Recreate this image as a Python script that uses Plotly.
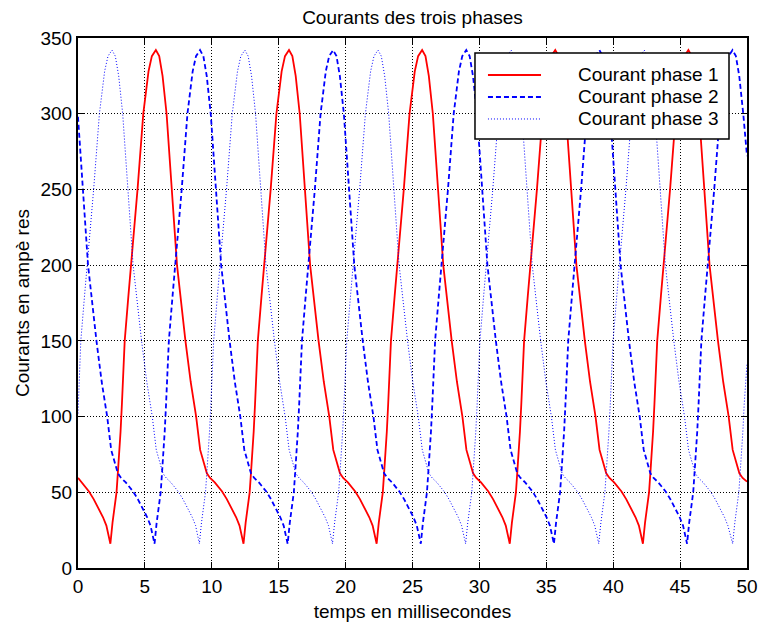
import plotly.graph_objects as go

# ---------------- data ----------------
t_phase1 = [0, 0.27, 0.82, 1.17, 1.55, 1.87, 2.12, 2.30,
    2.42, 2.58, 2.76, 2.88, 2.98, 3.08, 3.18, 3.28, 3.49, 3.77, 4.01, 4.45, 4.88, 5.27, 5.52, 5.82, 6.07, 6.32,
    6.62, 7.03, 7.40, 8.03, 8.42, 8.83, 9.13, 9.63, 9.87, 10.22, 10.77, 11.12, 11.50, 11.82, 12.07, 12.25,
    12.37, 12.53, 12.71, 12.83, 12.93, 13.03, 13.13, 13.23, 13.44, 13.72, 13.96, 14.40, 14.83, 15.22, 15.47, 15.77, 16.02, 16.27,
    16.57, 16.98, 17.35, 17.98, 18.37, 18.78, 19.08, 19.58, 19.82, 20.17, 20.72, 21.07, 21.45, 21.77, 22.02, 22.20,
    22.32, 22.48, 22.66, 22.78, 22.88, 22.98, 23.08, 23.18, 23.39, 23.67, 23.91, 24.35, 24.78, 25.17, 25.42, 25.72, 25.97, 26.22,
    26.52, 26.93, 27.30, 27.93, 28.32, 28.73, 29.03, 29.53, 29.77, 30.12, 30.67, 31.02, 31.40, 31.72, 31.97, 32.15,
    32.27, 32.43, 32.61, 32.73, 32.83, 32.93, 33.03, 33.13, 33.34, 33.62, 33.86, 34.30, 34.73, 35.12, 35.37, 35.67, 35.92, 36.17,
    36.47, 36.88, 37.25, 37.88, 38.27, 38.68, 38.98, 39.48, 39.72, 40.07, 40.62, 40.97, 41.35, 41.67, 41.92, 42.10,
    42.22, 42.38, 42.56, 42.68, 42.78, 42.88, 42.98, 43.08, 43.29, 43.57, 43.81, 44.25, 44.68, 45.07, 45.32, 45.62, 45.87, 46.12,
    46.42, 46.83, 47.20, 47.83, 48.22, 48.63, 48.93, 49.43, 49.67, 50]
i_phase1 = [59.5, 56.5, 50.5, 45.5, 39, 33.5, 28, 21,
    16, 30, 41, 50, 63, 75, 90, 108, 150, 180, 203, 250, 300, 328, 338, 342, 338, 325,
    300, 250, 200, 150, 123, 100, 78, 62.5, 59.5, 56.5, 50.5, 45.5, 39, 33.5, 28, 21,
    16, 30, 41, 50, 63, 75, 90, 108, 150, 180, 203, 250, 300, 328, 338, 342, 338, 325,
    300, 250, 200, 150, 123, 100, 78, 62.5, 59.5, 56.5, 50.5, 45.5, 39, 33.5, 28, 21,
    16, 30, 41, 50, 63, 75, 90, 108, 150, 180, 203, 250, 300, 328, 338, 342, 338, 325,
    300, 250, 200, 150, 123, 100, 78, 62.5, 59.5, 56.5, 50.5, 45.5, 39, 33.5, 28, 21,
    16, 30, 41, 50, 63, 75, 90, 108, 150, 180, 203, 250, 300, 328, 338, 342, 338, 325,
    300, 250, 200, 150, 123, 100, 78, 62.5, 59.5, 56.5, 50.5, 45.5, 39, 33.5, 28, 21,
    16, 30, 41, 50, 63, 75, 90, 108, 150, 180, 203, 250, 300, 328, 338, 342, 338, 325,
    300, 250, 200, 150, 123, 100, 78, 62.5, 59.5, 57]

t_phase2 = [0, 0.38, 0.75, 1.38, 1.77, 2.18, 2.48, 2.98, 3.22, 3.57, 4.12, 4.47, 4.85, 5.17, 5.42, 5.60,
    5.72, 5.88, 6.06, 6.18, 6.28, 6.38, 6.48, 6.58, 6.79, 7.07, 7.31, 7.75, 8.18, 8.57, 8.82, 9.12, 9.37, 9.62,
    9.92, 10.33, 10.70, 11.33, 11.72, 12.13, 12.43, 12.93, 13.17, 13.52, 14.07, 14.42, 14.80, 15.12, 15.37, 15.55,
    15.67, 15.83, 16.01, 16.13, 16.23, 16.33, 16.43, 16.53, 16.74, 17.02, 17.26, 17.70, 18.13, 18.52, 18.77, 19.07, 19.32, 19.57,
    19.87, 20.28, 20.65, 21.28, 21.67, 22.08, 22.38, 22.88, 23.12, 23.47, 24.02, 24.37, 24.75, 25.07, 25.32, 25.50,
    25.62, 25.78, 25.96, 26.08, 26.18, 26.28, 26.38, 26.48, 26.69, 26.97, 27.21, 27.65, 28.08, 28.47, 28.72, 29.02, 29.27, 29.52,
    29.82, 30.23, 30.60, 31.23, 31.62, 32.03, 32.33, 32.83, 33.07, 33.42, 33.97, 34.32, 34.70, 35.02, 35.27, 35.45,
    35.57, 35.73, 35.91, 36.03, 36.13, 36.23, 36.33, 36.43, 36.64, 36.92, 37.16, 37.60, 38.03, 38.42, 38.67, 38.97, 39.22, 39.47,
    39.77, 40.18, 40.55, 41.18, 41.57, 41.98, 42.28, 42.78, 43.02, 43.37, 43.92, 44.27, 44.65, 44.97, 45.22, 45.40,
    45.52, 45.68, 45.86, 45.98, 46.08, 46.18, 46.28, 46.38, 46.59, 46.87, 47.11, 47.55, 47.98, 48.37, 48.62, 48.92, 49.17, 49.42,
    49.72, 50]
i_phase2 = [298, 250, 200, 150, 123, 100, 78, 62.5, 59.5, 56.5, 50.5, 45.5, 39, 33.5, 28, 21,
    16, 30, 41, 50, 63, 75, 90, 108, 150, 180, 203, 250, 300, 328, 338, 342, 338, 325,
    300, 250, 200, 150, 123, 100, 78, 62.5, 59.5, 56.5, 50.5, 45.5, 39, 33.5, 28, 21,
    16, 30, 41, 50, 63, 75, 90, 108, 150, 180, 203, 250, 300, 328, 338, 342, 338, 325,
    300, 250, 200, 150, 123, 100, 78, 62.5, 59.5, 56.5, 50.5, 45.5, 39, 33.5, 28, 21,
    16, 30, 41, 50, 63, 75, 90, 108, 150, 180, 203, 250, 300, 328, 338, 342, 338, 325,
    300, 250, 200, 150, 123, 100, 78, 62.5, 59.5, 56.5, 50.5, 45.5, 39, 33.5, 28, 21,
    16, 30, 41, 50, 63, 75, 90, 108, 150, 180, 203, 250, 300, 328, 338, 342, 338, 325,
    300, 250, 200, 150, 123, 100, 78, 62.5, 59.5, 56.5, 50.5, 45.5, 39, 33.5, 28, 21,
    16, 30, 41, 50, 63, 75, 90, 108, 150, 180, 203, 250, 300, 328, 338, 342, 338, 325,
    300, 272]

t_phase3 = [0, 0.21, 0.49, 0.73, 1.17, 1.60, 1.99, 2.24, 2.54, 2.79, 3.04, 3.34, 3.75, 4.12, 4.75, 5.14, 5.55, 5.85,
    6.35, 6.59, 6.94, 7.49, 7.84, 8.22, 8.54, 8.79, 8.97,
    9.07, 9.23, 9.41, 9.53, 9.63, 9.73, 9.83, 9.93, 10.14, 10.42, 10.66, 11.10, 11.53, 11.92, 12.17, 12.47, 12.72, 12.97,
    13.27, 13.68, 14.05, 14.68, 15.07, 15.48, 15.78, 16.28, 16.52, 16.87, 17.42, 17.77, 18.15, 18.47, 18.72, 18.90,
    19.02, 19.18, 19.36, 19.48, 19.58, 19.68, 19.78, 19.88, 20.09, 20.37, 20.61, 21.05, 21.48, 21.87, 22.12, 22.42, 22.67, 22.92,
    23.22, 23.63, 24.00, 24.63, 25.02, 25.43, 25.73, 26.23, 26.47, 26.82, 27.37, 27.72, 28.10, 28.42, 28.67, 28.85,
    28.97, 29.13, 29.31, 29.43, 29.53, 29.63, 29.73, 29.83, 30.04, 30.32, 30.56, 31.00, 31.43, 31.82, 32.07, 32.37, 32.62, 32.87,
    33.17, 33.58, 33.95, 34.58, 34.97, 35.38, 35.68, 36.18, 36.42, 36.77, 37.32, 37.67, 38.05, 38.37, 38.62, 38.80,
    38.92, 39.08, 39.26, 39.38, 39.48, 39.58, 39.68, 39.78, 39.99, 40.27, 40.51, 40.95, 41.38, 41.77, 42.02, 42.32, 42.57, 42.82,
    43.12, 43.53, 43.90, 44.53, 44.92, 45.33, 45.63, 46.13, 46.37, 46.72, 47.27, 47.62, 48.00, 48.32, 48.57, 48.75,
    48.93, 49.09, 49.27, 49.39, 49.49, 49.59, 49.69, 49.79, 50]
i_phase3 = [102, 150, 180, 203, 250, 300, 328, 338, 342, 338, 325, 300, 250, 200, 150, 123, 100, 78,
    62.5, 59.5, 56.5, 50.5, 45.5, 39, 33.5, 28, 21,
    16, 30, 41, 50, 63, 75, 90, 108, 150, 180, 203, 250, 300, 328, 338, 342, 338, 325,
    300, 250, 200, 150, 123, 100, 78, 62.5, 59.5, 56.5, 50.5, 45.5, 39, 33.5, 28, 21,
    16, 30, 41, 50, 63, 75, 90, 108, 150, 180, 203, 250, 300, 328, 338, 342, 338, 325,
    300, 250, 200, 150, 123, 100, 78, 62.5, 59.5, 56.5, 50.5, 45.5, 39, 33.5, 28, 21,
    16, 30, 41, 50, 63, 75, 90, 108, 150, 180, 203, 250, 300, 328, 338, 342, 338, 325,
    300, 250, 200, 150, 123, 100, 78, 62.5, 59.5, 56.5, 50.5, 45.5, 39, 33.5, 28, 21,
    16, 30, 41, 50, 63, 75, 90, 108, 150, 180, 203, 250, 300, 328, 338, 342, 338, 325,
    300, 250, 200, 150, 123, 100, 78, 62.5, 59.5, 56.5, 50.5, 45.5, 39, 33.5, 28, 21,
    16, 30, 41, 50, 63, 75, 90, 108, 135]

series_names = ["Courant phase 1", "Courant phase 2", "Courant phase 3"]
x_ticks = [0, 5, 10, 15, 20, 25, 30, 35, 40, 45, 50]
y_ticks = [0, 50, 100, 150, 200, 250, 300, 350]

# ---------------- styles ----------------
FONT = "Liberation Sans, Arial, Helvetica, sans-serif"
RED = "rgb(255,0,0)"
BLUE = "rgb(0,0,255)"
line_styles = [
    dict(color=RED, width=1.8),
    dict(color=BLUE, width=1.8, dash="5px,3px"),
    dict(color=BLUE, width=1, dash="1px,2px"),
]

fig = go.Figure()
for tx, iy, name, ls in zip([t_phase1, t_phase2, t_phase3], [i_phase1, i_phase2, i_phase3],
                            series_names, line_styles):
    fig.add_trace(go.Scatter(x=tx, y=iy, mode="lines", name=name, line=ls, showlegend=False))

axis_common = dict(
    showline=True, linecolor="black", linewidth=2, mirror="ticks",
    ticks="inside", ticklen=6, tickcolor="black", tickwidth=1,
    showgrid=True, gridcolor="black", gridwidth=1, griddash="1px,2px",
    zeroline=False, tickfont=dict(family=FONT, size=19, color="black"),
)
fig.update_xaxes(range=[0, 50], tickvals=x_ticks, ticktext=[str(v) for v in x_ticks],
                 title=dict(text="temps en millisecondes", font=dict(family=FONT, size=19, color="black"),
                            standoff=9),
                 **axis_common)
fig.update_yaxes(range=[0, 350], tickvals=y_ticks, ticktext=[str(v) for v in y_ticks],
                 title=dict(text="Courants en ampè res", font=dict(family=FONT, size=19, color="black"),
                            standoff=6),
                 **axis_common)

# ---------------- legend box (MATLAB style), in paper coordinates ----------------
LEG_X0, LEG_X1, LEG_Y0, LEG_Y1 = 0.5934, 0.9731, 0.8094, 0.9717
SAMPLE_X0, SAMPLE_X1, TEXT_X = 0.6128, 0.6921, 0.7444
ROW_Y = [0.9302, 0.8887, 0.8472]

shapes = [dict(type="rect", xref="paper", yref="paper", x0=LEG_X0, x1=LEG_X1, y0=LEG_Y0, y1=LEG_Y1,
               fillcolor="white", line=dict(color="black", width=1.5), layer="above")]
annotations = []
for name, ls, ry in zip(series_names, line_styles, ROW_Y):
    shapes.append(dict(type="line", xref="paper", yref="paper", x0=SAMPLE_X0, x1=SAMPLE_X1,
                       y0=ry, y1=ry, line=ls, layer="above"))
    annotations.append(dict(text=name, xref="paper", yref="paper", x=TEXT_X, y=ry,
                            xanchor="left", yanchor="middle", showarrow=False,
                            font=dict(family=FONT, size=19, color="black")))

fig.update_layout(
    width=758, height=625,
    margin=dict(l=78, r=11, t=38, b=57, autoexpand=False),
    plot_bgcolor="white", paper_bgcolor="white",
    font=dict(family=FONT, size=19, color="black"),
    title=dict(text="Courants des trois phases", x=0.5, xref="paper", xanchor="center",
               y=1 - 17 / 625, yref="container", yanchor="middle",
               font=dict(family=FONT, size=19, color="black")),
    shapes=shapes,
    annotations=annotations,
    showlegend=False,
)

fig.write_html("out.html")
